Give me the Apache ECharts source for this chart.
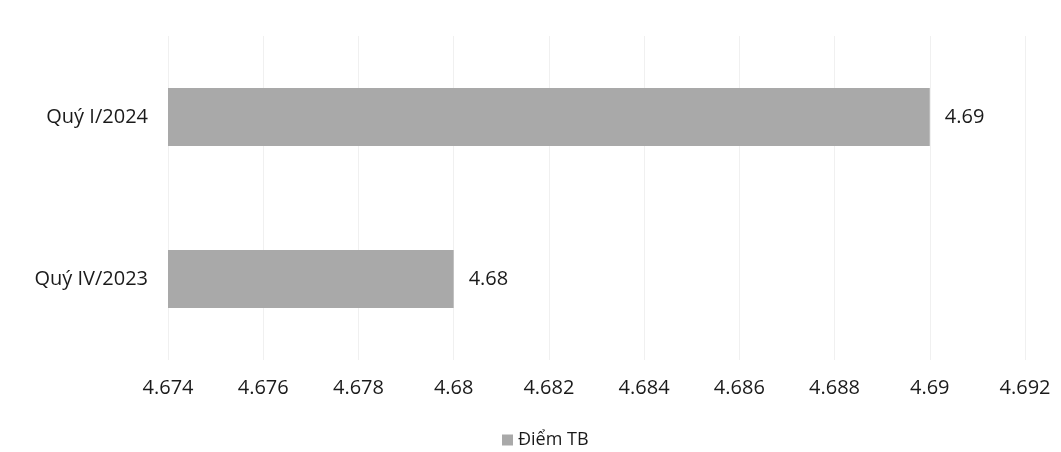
<!DOCTYPE html>
<html>
<head>
<meta charset="utf-8">
<script src="https://cdn.jsdelivr.net/npm/echarts@6/dist/echarts.min.js"></script>
<style>
  html, body { margin: 0; padding: 0; background: #fff; }
  #chart { width: 1061px; height: 452px; }
</style>
</head>
<body>
<div id="chart"></div>
<script>
// categories bottom to top, as the y axis draws them
const categories = ["Quý IV/2023", "Quý I/2024"];
const scores = [4.68, 4.69];
const seriesName = "Điểm TB";

const FONT = "'Open Sans', sans-serif";

var chart = echarts.init(document.getElementById("chart"));
chart.setOption({
  backgroundColor: "#fff",
  animation: false,
  grid: { left: 168, right: 36, top: 36, bottom: 92 },
  legend: {
    left: 497,
    top: 426,
    itemWidth: 11,
    itemHeight: 11,
    itemGap: 6,
    textStyle: { fontFamily: FONT, fontSize: 18, color: "#1a1a1a" },
    data: [{ name: seriesName, icon: "rect" }]
  },
  xAxis: {
    type: "value",
    min: 4.674,
    max: 4.692,
    interval: 0.002,
    axisLine: { show: false },
    axisTick: { show: false },
    splitLine: { lineStyle: { color: "#f0f0f0", width: 1 } },
    axisLabel: {
      margin: 18,
      fontFamily: FONT,
      fontSize: 20,
      color: "#1a1a1a",
      formatter: v => String(+v.toFixed(3))
    }
  },
  yAxis: {
    type: "category",
    data: categories,
    axisLine: { show: false },
    axisTick: { show: false },
    axisLabel: { margin: 20, fontFamily: FONT, fontSize: 20, color: "#1a1a1a" }
  },
  series: [{
    name: seriesName,
    type: "bar",
    data: scores,
    barWidth: 58,
    itemStyle: { color: "#a9a9a9" },
    label: {
      show: true,
      position: "right",
      distance: 15,
      fontFamily: FONT,
      fontSize: 20,
      color: "#1a1a1a",
      formatter: p => p.value.toFixed(2)
    }
  }]
});
window.onresize = function() {
  chart.resize();
};
</script>
</body>
</html>
